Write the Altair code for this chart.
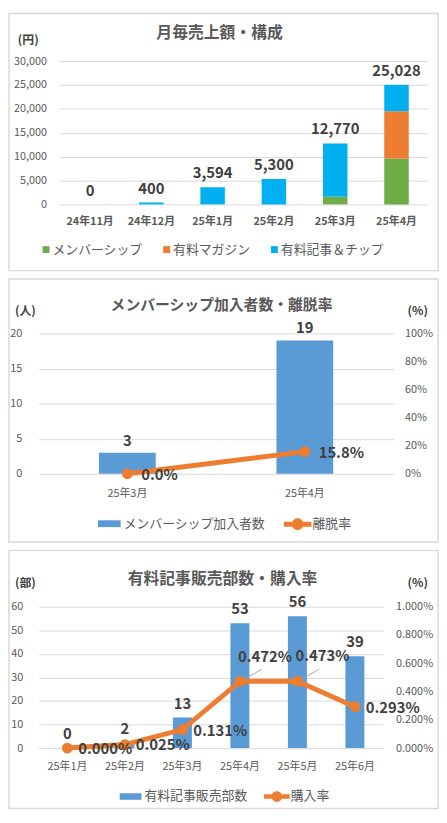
import altair as alt
import pandas as pd

# ---------------- data ----------------
months1 = ["24年11月", "24年12月", "25年1月", "25年2月", "25年3月", "25年4月"]
series1 = ["メンバーシップ", "有料マガジン", "有料記事＆チップ"]
membership = [0, 0, 0, 0, 1600, 9600]
magazine = [0, 0, 0, 0, 0, 9900]
articles_tips = [0, 400, 3594, 5300, 11170, 5528]
totals1 = [0, 400, 3594, 5300, 12770, 25028]
y1_ticks = [0, 5000, 10000, 15000, 20000, 25000, 30000]

months2 = ["25年3月", "25年4月"]
members_joined = [3, 19]
churn_rate = [0.0, 0.158]
y2_ticks = [0, 5, 10, 15, 20]
y2r_ticks = [0, 0.2, 0.4, 0.6, 0.8, 1.0]

months3 = ["25年1月", "25年2月", "25年3月", "25年4月", "25年5月", "25年6月"]
articles_sold = [0, 2, 13, 53, 56, 39]
purchase_rate = [0.0, 0.00025, 0.00131, 0.00472, 0.00473, 0.00293]
y3_ticks = [0, 10, 20, 30, 40, 50, 60]
y3r_ticks = [0, 0.002, 0.004, 0.006, 0.008, 0.010]
raised_labels = ["25年4月", "25年5月"]

# ---------------- style ----------------
FONT = "Noto Sans CJK JP"
TXT = "#595959"
DARK = "#404040"
GRID = "#d9d9d9"
BORDER = "#d9d9d9"
GREEN, ORANGE, CYAN, BLUE = "#70AD47", "#ED7D31", "#00B0F0", "#5B9BD5"
colors1 = [GREEN, ORANGE, CYAN]
BAR_SYMBOL = "M-1,-0.3L1,-0.3L1,0.3L-1,0.3Z"
LINE_SYMBOL = ("M-1,-0.18L1,-0.18L1,0.18L-1,0.18Z "
               "M0.42,0A0.42,0.42 0 1,1 -0.42,0A0.42,0.42 0 1,1 0.42,0Z")
BW = 434  # panel (box) width


def box(bh):
    return alt.Chart(alt.Data(values=[{"b": 1}])).mark_rect(
        fillOpacity=0, stroke=BORDER, strokeWidth=1.5
    ).encode(x=alt.value(0), x2=alt.value(BW), y=alt.value(0), y2=alt.value(bh))


def heading(text, x, y, size):
    return alt.Chart(alt.Data(values=[{"t": text}])).mark_text(
        fontSize=size, fontWeight="bold", color=TXT, align="center", baseline="middle"
    ).encode(x=alt.value(x), y=alt.value(y), text="t:N")


def y_axis(values, fmt, pad, title, tx, ty, offset, orient="left", grid=True):
    return alt.Axis(orient=orient, values=values, format=fmt, ticks=False, domain=False,
                    grid=grid, gridColor=GRID, gridWidth=1, labelPadding=pad, offset=offset,
                    labelFontSize=11, labelColor=TXT, title=title, titleX=tx, titleY=ty,
                    titleAngle=0, titleAlign="center", titleBaseline="middle",
                    titleFontSize=12, titleFontWeight="bold", titleColor=DARK)


def x_axis(pad, offset, weight="normal"):
    return alt.Axis(title=None, labelAngle=0, ticks=False, domain=False, grid=False,
                    labelPadding=pad, offset=offset, labelFontSize=11, labelColor=TXT,
                    labelFontWeight=weight)


def legend(x, y, symbol=None, size=49, label_offset=3):
    return alt.Legend(title=None, orient="none", legendX=x, legendY=y, direction="horizontal",
                      symbolSize=size, labelFontSize=13, labelColor=TXT,
                      labelOffset=label_offset, columnPadding=17, padding=0,
                      symbolStrokeWidth=0, symbolType=symbol if symbol else "square")


# ---------------- panel 1 ----------------
OX1, OY1, W1, H1, BH1 = 51, 48, 372, 145, 260
rows = []
for i, m in enumerate(months1):
    for k, vals in enumerate([membership, magazine, articles_tips]):
        rows.append({"month": m, "series": series1[k], "rank": k, "value": vals[i]})
df1 = pd.DataFrame(rows)
df1t = pd.DataFrame({"month": months1, "total": totals1})

x1 = alt.X("month:N", sort=months1,
           scale=alt.Scale(paddingInner=0.6, paddingOuter=0.3, range=[OX1, OX1 + W1]),
           axis=x_axis(11, -(BH1 - OY1 - H1), "bold"))
ys1 = alt.Scale(domain=[0, 30000], range=[OY1 + H1, OY1])
ya1 = y_axis(y1_ticks, ",d", 13, "(円)", -32, 26, -OX1)

bars1 = alt.Chart(df1).mark_bar().encode(
    x=x1,
    y=alt.Y("value:Q", stack="zero", scale=ys1, axis=ya1),
    color=alt.Color("series:N", sort=series1,
                    scale=alt.Scale(domain=series1, range=colors1),
                    legend=legend(31, 232, label_offset=0)),
    order=alt.Order("rank:Q", sort="ascending"),
)
labels1 = alt.Chart(df1t).mark_text(
    dy=-14, fontSize=15, fontWeight="bold", color=DARK, baseline="middle"
).encode(x=x1, y=alt.Y("total:Q", scale=ys1, axis=ya1),
         text=alt.Text("total:Q", format=","))

panel1 = alt.layer(
    box(BH1), heading("月毎売上額・構成", 213, 20, 16), bars1, labels1,
).properties(width=BW, height=BH1)

# ---------------- panel 2 ----------------
OX2, OY2, W2, H2, BH2 = 30, 55, 359, 142, 266
df2 = pd.DataFrame({"month": months2, "joined": members_joined, "rate": churn_rate,
                    "bar_name": "メンバーシップ加入者数", "line_name": "離脱率"})
x2 = alt.X("month:N", sort=months2,
           scale=alt.Scale(paddingInner=0.68, paddingOuter=0.34, range=[OX2, OX2 + W2]),
           axis=x_axis(14, -(BH2 - OY2 - H2)))
ys2l = alt.Scale(domain=[0, 20], range=[OY2 + H2, OY2])
ya2l = y_axis(y2_ticks, "d", 17, "(人)", -14, 32, -OX2)
ys2r = alt.Scale(domain=[0, 1], range=[OY2 + H2, OY2])
ya2r = y_axis(y2r_ticks, ".0%", 11, "(%)", 24, 32, -(BW - OX2 - W2),
              orient="right", grid=False)

bars2 = alt.Chart(df2).mark_bar().encode(
    x=x2, y=alt.Y("joined:Q", scale=ys2l, axis=ya2l),
    color=alt.Color("bar_name:N", scale=alt.Scale(range=[BLUE]),
                    legend=legend(90, 236, BAR_SYMBOL, 529)),
)
blabels2 = alt.Chart(df2).mark_text(
    dy=-12, fontSize=15, fontWeight="bold", color=DARK, baseline="middle"
).encode(x=x2, y=alt.Y("joined:Q", scale=ys2l, axis=ya2l), text="joined:Q")

line2 = alt.Chart(df2).mark_line(color=ORANGE, strokeWidth=5).encode(
    x=x2, y=alt.Y("rate:Q", scale=ys2r, axis=ya2r))
pts2 = alt.Chart(df2).mark_circle(size=120, opacity=1).encode(
    x=x2, y=alt.Y("rate:Q", scale=ys2r, axis=ya2r),
    color=alt.Color("line_name:N", scale=alt.Scale(range=[ORANGE]),
                    legend=legend(278, 234, LINE_SYMBOL, 784, 1)),
)
llabels2 = alt.Chart(df2).mark_text(
    align="left", baseline="middle", dx=14, dy=1, fontSize=15, fontWeight="bold", color=DARK
).encode(x=x2, y=alt.Y("rate:Q", scale=ys2r, axis=ya2r),
         text=alt.Text("rate:Q", format=".1%"))

panel2 = alt.layer(
    box(BH2), heading("メンバーシップ加入者数・離脱率", 215, 26, 15),
    alt.layer(bars2, blabels2),
    alt.layer(line2, pts2, llabels2),
).resolve_scale(y="independent", color="independent").properties(width=BW, height=BH2)

# ---------------- panel 3 ----------------
OX3, OY3, W3, H3, BH3 = 30, 57, 349, 143, 261
df3 = pd.DataFrame({"month": months3, "sold": articles_sold, "rate": purchase_rate,
                    "bar_name": "有料記事販売部数", "line_name": "購入率"})
xs3 = alt.Scale(paddingInner=0.67, paddingOuter=0.335, range=[OX3, OX3 + W3])
xa3 = x_axis(13, -(BH3 - OY3 - H3))
x3 = alt.X("month:N", sort=months3, scale=xs3, axis=xa3)
ys3l = alt.Scale(domain=[0, 60], range=[OY3 + H3, OY3])
ya3l = y_axis(y3_ticks, "d", 16, "(部)", -14, 33, -OX3)
ys3r = alt.Scale(domain=[0, 0.01], range=[OY3 + H3, OY3])
ya3r = y_axis(y3r_ticks, ".3%", 12, "(%)", 34, 33, -(BW - OX3 - W3),
              orient="right", grid=False)

bars3 = alt.Chart(df3).mark_bar().encode(
    x=x3, y=alt.Y("sold:Q", scale=ys3l, axis=ya3l),
    color=alt.Color("bar_name:N", scale=alt.Scale(range=[BLUE]),
                    legend=legend(112, 238, BAR_SYMBOL, 484)),
)
blabels3 = alt.Chart(df3).mark_text(
    dy=-14, fontSize=15, fontWeight="bold", color=DARK, baseline="middle"
).encode(x=x3, y=alt.Y("sold:Q", scale=ys3l, axis=ya3l), text="sold:Q")

line3 = alt.Chart(df3).mark_line(color=ORANGE, strokeWidth=5).encode(
    x=x3, y=alt.Y("rate:Q", scale=ys3r, axis=ya3r))
leaders3 = alt.Chart(df3).transform_filter(
    alt.FieldOneOfPredicate(field="month", oneOf=raised_labels)
).mark_rule(color="#a6a6a6", strokeWidth=1, x2Offset=22, y2Offset=-12).encode(
    x=alt.X("month:N", sort=months3, bandPosition=0.5, scale=xs3, axis=xa3),
    x2=alt.X2("month:N", bandPosition=0.5),
    y=alt.Y("rate:Q", scale=ys3r, axis=ya3r), y2="rate:Q")
pts3 = alt.Chart(df3).mark_circle(size=120, opacity=1).encode(
    x=x3, y=alt.Y("rate:Q", scale=ys3r, axis=ya3r),
    color=alt.Color("line_name:N", scale=alt.Scale(range=[ORANGE]),
                    legend=legend(258, 236, LINE_SYMBOL, 676, 1)),
)
llabels3 = alt.Chart(df3).transform_filter(
    ~alt.FieldOneOfPredicate(field="month", oneOf=raised_labels)
).mark_text(
    align="left", baseline="middle", dx=11, dy=1, fontSize=15, fontWeight="bold", color=DARK
).encode(x=x3, y=alt.Y("rate:Q", scale=ys3r, axis=ya3r),
         text=alt.Text("rate:Q", format=".3%"))
rlabels3 = alt.Chart(df3).transform_filter(
    alt.FieldOneOfPredicate(field="month", oneOf=raised_labels)
).mark_text(
    align="left", baseline="middle", dx=-2, dy=-25, fontSize=15, fontWeight="bold", color=DARK
).encode(x=x3, y=alt.Y("rate:Q", scale=ys3r, axis=ya3r),
         text=alt.Text("rate:Q", format=".3%"))

panel3 = alt.layer(
    box(BH3), heading("有料記事販売部数・購入率", 216, 29, 16),
    alt.layer(bars3, blabels3),
    alt.layer(line3, leaders3, pts3, llabels3, rlabels3),
).resolve_scale(y="independent", color="independent").properties(width=BW, height=BH3)

chart = alt.vconcat(panel1, panel2, panel3, spacing=6.5).properties(
    padding=0, background="white"
).configure(font=FONT).configure_view(strokeWidth=0)

chart.save("out.html", embed_options={"renderer": "svg", "actions": False})
